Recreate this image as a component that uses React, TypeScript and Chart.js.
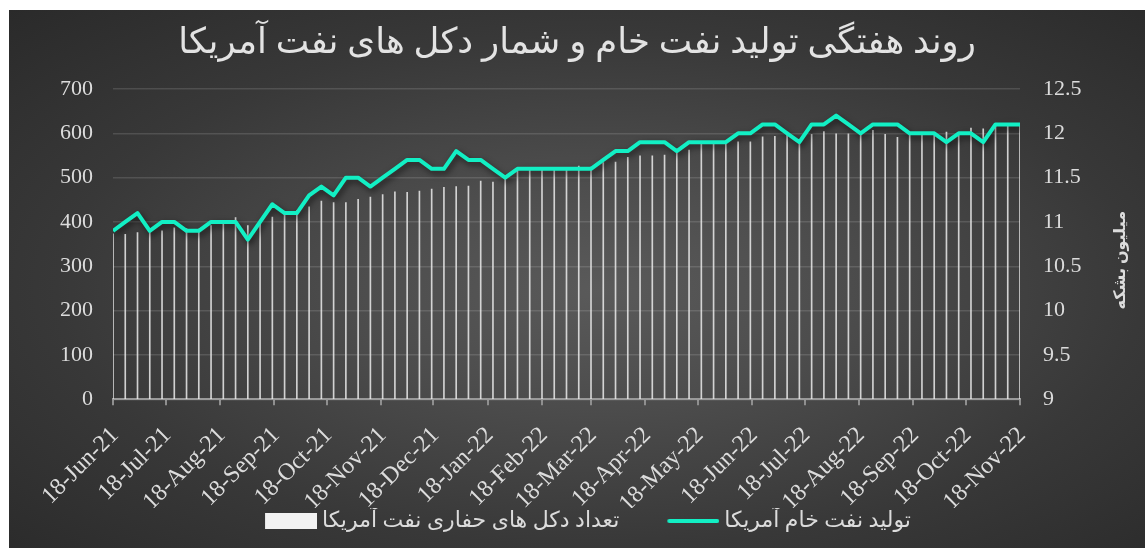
import React, { useEffect, useRef } from "react";
import { Chart, registerables } from "chart.js";

Chart.register(...registerables);

// ---- Text ----
const TITLE = "روند هفتگی تولید نفت خام و شمار دکل های نفت آمریکا";
const RIG_LABEL = "تعداد دکل های حفاری نفت آمریکا";
const PROD_LABEL = "تولید نفت خام آمریکا";
const RIGHT_AXIS_TITLE = "میلیون بشکه";

// ---- Axis / categories ----
const START_DATE = "18-Jun-21"; // first weekly observation (weekly series)
const MONTH_TICKS = [
  "18-Jun-21", "18-Jul-21", "18-Aug-21", "18-Sep-21", "18-Oct-21", "18-Nov-21",
  "18-Dec-21", "18-Jan-22", "18-Feb-22", "18-Mar-22", "18-Apr-22", "18-May-22",
  "18-Jun-22", "18-Jul-22", "18-Aug-22", "18-Sep-22", "18-Oct-22", "18-Nov-22",
];
const LEFT_TICKS = [0, 100, 200, 300, 400, 500, 600, 700];
const RIGHT_TICKS = [9, 9.5, 10, 10.5, 11, 11.5, 12, 12.5];

// ---- Series (weekly) ----
const RIG_COUNT = [
  373, 372, 376, 378, 380, 387, 385, 384, 392, 397,
  410, 392, 401, 411, 421, 426, 434, 447, 444, 444,
  451, 456, 462, 468, 467, 470, 474, 478, 480, 481,
  492, 490, 497, 518, 520, 520, 519, 521, 526, 524,
  534, 535, 546, 549, 549, 551, 557, 562, 575, 575,
  577, 581, 581, 592, 593, 596, 586, 598, 604, 599,
  599, 600, 607, 598, 591, 599, 600, 600, 603, 602,
  612, 610, 619, 619, 619,
];
const CRUDE_PRODUCTION = [
  10.9, 11.0, 11.1, 10.9, 11.0, 11.0, 10.9, 10.9, 11.0, 11.0,
  11.0, 10.8, 11.0, 11.2, 11.1, 11.1, 11.3, 11.4, 11.3, 11.5,
  11.5, 11.4, 11.5, 11.6, 11.7, 11.7, 11.6, 11.6, 11.8, 11.7,
  11.7, 11.6, 11.5, 11.6, 11.6, 11.6, 11.6, 11.6, 11.6, 11.6,
  11.7, 11.8, 11.8, 11.9, 11.9, 11.9, 11.8, 11.9, 11.9, 11.9,
  11.9, 12.0, 12.0, 12.1, 12.1, 12.0, 11.9, 12.1, 12.1, 12.2,
  12.1, 12.0, 12.1, 12.1, 12.1, 12.0, 12.0, 12.0, 11.9, 12.0,
  12.0, 11.9, 12.1, 12.1, 12.1,
];

const FONT = "'Liberation Serif', 'DejaVu Serif', 'DejaVu Sans', serif";
const TEXT_COLOR = "#dcdcdc";
const LINE_COLOR = "#12efc4";
const BAR_COLOR = "rgba(235,235,235,0.85)";

const MONTHS = ["Jan", "Feb", "Mar", "Apr", "May", "Jun", "Jul", "Aug", "Sep", "Oct", "Nov", "Dec"];
function parseDate(s: string): number {
  const [d, m, y] = s.split("-");
  return Date.UTC(2000 + Number(y), MONTHS.indexOf(m), Number(d));
}
const DAY = 86400000;
const start = parseDate(START_DATE);
const tickDays = MONTH_TICKS.map((t) => Math.round((parseDate(t) - start) / DAY));

const shadowPlugin = {
  id: "lineShadow",
  beforeDatasetDraw(chart: any, args: any) {
    if (chart.data.datasets[args.index].type === "line") {
      const ctx = chart.ctx;
      ctx.save();
      ctx.shadowColor = "rgba(0,0,0,0.6)";
      ctx.shadowBlur = 6;
      ctx.shadowOffsetX = 2;
      ctx.shadowOffsetY = 3;
    }
  },
  afterDatasetDraw(chart: any, args: any) {
    if (chart.data.datasets[args.index].type === "line") chart.ctx.restore();
  },
};

const rightTitlePlugin = {
  id: "rightTitle",
  afterDraw(chart: any) {
    const s = chart.scales.y1;
    const ctx = chart.ctx;
    ctx.save();
    ctx.font = `bold 16px ${FONT}`;
    ctx.fillStyle = TEXT_COLOR;
    ctx.textAlign = "center";
    ctx.textBaseline = "middle";
    ctx.translate(s.right - 24, (s.top + s.bottom) / 2 + 16);
    ctx.rotate(-Math.PI / 2);
    ctx.fillText(RIGHT_AXIS_TITLE, 0, 0);
    ctx.restore();
  },
};

// nudges the legend row slightly left, as in the original layout
const legendShiftPlugin = {
  id: "legendShift",
  afterLayout(chart: any) {
    if (chart.legend) chart.legend.right = chart.width - 24;
  },
};

function makeLegendImage(kind: "rect" | "line", gap: number): HTMLCanvasElement {
  const c = document.createElement("canvas");
  const w = 52;
  const x0 = gap + 12;
  c.width = w + x0;
  c.height = 22;
  const g = c.getContext("2d")!;
  if (kind === "rect") {
    g.fillStyle = "#f2f2f2";
    g.fillRect(x0, 3, w, 16);
  } else {
    g.strokeStyle = LINE_COLOR;
    g.lineWidth = 4;
    g.lineCap = "round";
    g.beginPath();
    g.moveTo(x0 + 2, 11);
    g.lineTo(x0 + w - 2, 11);
    g.stroke();
  }
  return c;
}

export default function App() {
  const ref = useRef<HTMLCanvasElement>(null);
  useEffect(() => {
    const GAP = 40;
    const rectImg = makeLegendImage("rect", GAP);
    const lineImg = makeLegendImage("line", GAP);
    const chart = new Chart(ref.current!, {
      type: "bar",
      data: {
        datasets: [
          {
            type: "bar",
            label: RIG_LABEL,
            data: RIG_COUNT.map((v, i) => ({ x: i * 7, y: v })),
            backgroundColor: BAR_COLOR,
            barThickness: 1,
            yAxisID: "y",
            order: 2,
          } as any,
          {
            type: "line",
            label: PROD_LABEL,
            data: CRUDE_PRODUCTION.map((v, i) => ({ x: i * 7, y: v })),
            borderColor: LINE_COLOR,
            borderWidth: 4,
            pointRadius: 0,
            tension: 0,
            borderJoinStyle: "round",
            yAxisID: "y1",
            order: 1,
          } as any,
        ],
      },
      options: {
        responsive: false,
        animation: false,
        layout: { padding: { left: 0, right: 0, top: 0, bottom: 6 } },
        plugins: {
          tooltip: { enabled: false },
          title: {
            display: true,
            text: TITLE,
            color: "#e3e3e3",
            font: { family: FONT, size: 35.5, weight: "normal" },
            padding: { top: 12, bottom: 24.4 },
          },
          legend: {
            position: "bottom",
            labels: {
              usePointStyle: true,
              pointStyleWidth: 52 + GAP,
              padding: 2,
              color: TEXT_COLOR,
              font: { family: FONT, size: 22 },
              generateLabels: () => [
                { text: RIG_LABEL, pointStyle: rectImg, fillStyle: "#f2f2f2", strokeStyle: "#f2f2f2", lineWidth: 0, hidden: false, datasetIndex: 0, fontColor: TEXT_COLOR },
                { text: PROD_LABEL, pointStyle: lineImg, fillStyle: LINE_COLOR, strokeStyle: LINE_COLOR, lineWidth: 0, hidden: false, datasetIndex: 1, fontColor: TEXT_COLOR },
              ] as any,
            },
          },
        },
        scales: {
          x: {
            type: "linear",
            min: tickDays[0],
            max: tickDays[tickDays.length - 1],
            offset: false,
            afterBuildTicks: (scale: any) => {
              scale.ticks = tickDays.map((v) => ({ value: v }));
            },
            afterFit: (scale: any) => {
              scale.height = 108.7;
            },
            ticks: {
              autoSkip: false,
              maxRotation: 45,
              minRotation: 45,
              padding: 16,
              labelOffset: 2,
              color: TEXT_COLOR,
              font: { family: FONT, size: 24 },
              callback: (v: any) => {
                const i = tickDays.indexOf(Number(v));
                return i >= 0 ? MONTH_TICKS[i] : "";
              },
            },
            grid: {
              display: true,
              offset: false,
              drawOnChartArea: false,
              drawTicks: true,
              tickLength: 6,
              color: "#8f8f8f",
              lineWidth: 2,
            },
            border: { display: true, color: "#9a9a9a", width: 2 },
          },
          y: {
            type: "linear",
            position: "left",
            min: LEFT_TICKS[0],
            max: LEFT_TICKS[LEFT_TICKS.length - 1],
            afterBuildTicks: (scale: any) => {
              scale.ticks = LEFT_TICKS.map((v) => ({ value: v }));
            },
            afterFit: (scale: any) => {
              scale.width = 104;
            },
            ticks: {
              padding: 20,
              color: TEXT_COLOR,
              font: { family: FONT, size: 22 },
              callback: (v: any) => String(v),
            },
            grid: {
              drawTicks: false,
              color: "rgba(255,255,255,0.13)",
              lineWidth: 1.5,
            },
            border: { display: false },
          },
          y1: {
            type: "linear",
            position: "right",
            min: RIGHT_TICKS[0],
            max: RIGHT_TICKS[RIGHT_TICKS.length - 1],
            afterBuildTicks: (scale: any) => {
              scale.ticks = RIGHT_TICKS.map((v) => ({ value: v }));
            },
            afterFit: (scale: any) => {
              scale.width = 125;
            },
            ticks: {
              padding: 23,
              color: TEXT_COLOR,
              font: { family: FONT, size: 22 },
              callback: (v: any) => String(v),
            },
            grid: { display: false, drawTicks: false },
            border: { display: false },
          },
        },
      } as any,
      plugins: [shadowPlugin, rightTitlePlugin, legendShiftPlugin],
    });
    return () => chart.destroy();
  }, []);

  return (
    <div
      style={{
        position: "absolute",
        left: 9,
        top: 10,
        width: 1136,
        height: 538,
        background:
          "radial-gradient(ellipse farthest-corner at 52% 52%, #5a5a5a 0%, #4c4c4c 30%, #383838 65%, #2a2a2a 100%)",
      }}
    >
      <canvas ref={ref} width={1136} height={538} style={{ display: "block" }} />
    </div>
  );
}
